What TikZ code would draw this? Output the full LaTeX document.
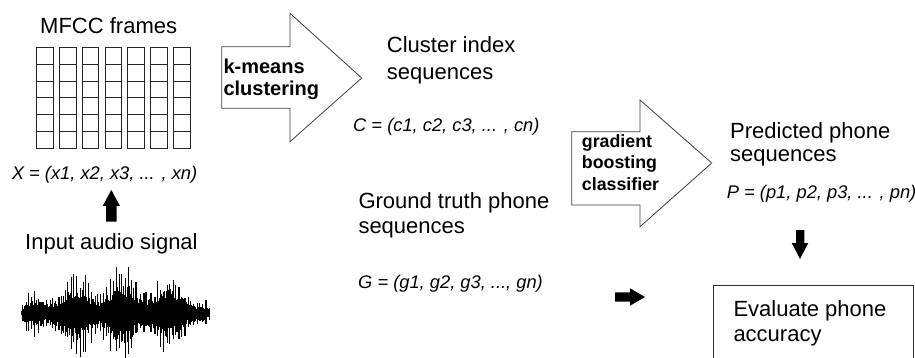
\documentclass[tikz,border=0pt]{standalone}
\usepackage{fontspec}
\setmainfont{Liberation Sans}
\begin{document}
\begin{tikzpicture}[x=1pt,y=-1pt,
  big/.style={inner sep=0pt,anchor=base west,align=left,font=\fontsize{22}{25}\selectfont},
  seqtxt/.style={inner sep=0pt,anchor=base west,font=\fontsize{18.3}{22}\selectfont\itshape},
  boldtxt/.style={inner sep=0pt,anchor=base west,align=left,font=\fontsize{20}{22}\selectfont\bfseries},
  cell/.style={draw=black!85,line width=0.9pt},
  blockarrow/.style={draw=black!75,line width=0.8pt,fill=white},
  solidarrow/.style={fill=black}]
\useasboundingbox (0,0) rectangle (915,358);

% MFCC frames
\node[big] (mfcc) at (40,33.3) {MFCC frames};
\foreach \c in {0,...,6} {
  \foreach \r in {0,...,5} {
    \draw[cell] ({36.7+22.8*\c},{47.3+16.83*\r}) rectangle ++(16.5,16.83);
  }
}
\node[seqtxt] (X) at (11.7,179.3) {X = (x1, x2, x3, ... , xn)};

% up arrow
\fill[solidarrow] (106,221.7) -- (106,206) -- (102.7,206) -- (111.3,190) -- (120,206) -- (116.7,206) -- (116.7,221.7) -- cycle;

\node[big] (input) at (25,249.5) {Input audio signal};

% waveform: dense core
\pgfmathsetseed{7}
\foreach \i in {0,...,188} {
  \pgfmathsetmacro\xx{21.5+\i}
  \pgfmathsetmacro\t{(\xx-21.5)/189}
  \pgfmathsetmacro\env{5+50*sqrt(abs(sin(180*\t)))*(0.7+0.3*sin(1400*\t+60))}
  \pgfmathsetmacro\up{\env*(0.3+0.25*rnd)}
  \pgfmathsetmacro\dn{\env*(0.3+0.25*rnd)}
  \draw[line width=1.1pt] (\xx,313.3-\up) -- (\xx,313.3+\dn);
}
% waveform: spikes
\foreach \i in {0,...,62} {
  \pgfmathsetmacro\xx{22+3*\i+2*rnd}
  \pgfmathsetmacro\t{(\xx-21.5)/189}
  \pgfmathsetmacro\env{5+50*sqrt(abs(sin(180*\t)))*(0.7+0.3*sin(1400*\t+60))}
  \pgfmathsetmacro\up{\env*(0.5+0.5*rnd)}
  \pgfmathsetmacro\dn{\env*(0.5+0.5*rnd)}
  \draw[line width=1.2pt] (\xx,313.3-\up) -- (\xx,313.3+\dn);
}

% k-means arrow
\draw[blockarrow] (221.7,46.7) -- (290,46.7) -- (290,13.3) -- (361.7,78) -- (290,141.7) -- (290,108.3) -- (221.7,108.3) -- cycle;
\node[boldtxt] (kmeans) at (223.3,96) {k-means\\clustering};

\node[big,font=\fontsize{22}{27.3}\selectfont] (cluster) at (386.7,80) {Cluster index\\sequences};
\node[seqtxt] (C) at (353,131.7) {C = (c1, c2, c3, ... , cn)};

\node[big] (ground) at (358.3,233.3) {Ground truth phone\\sequences};
\node[seqtxt] (G) at (358,288.3) {G = (g1, g2, g3, ..., gn)};

% gradient boosting arrow
\draw[blockarrow] (571.7,131.7) -- (640,131.7) -- (640,100) -- (711.7,163) -- (640,226.7) -- (640,205) -- (571.7,205) -- cycle;
\node[boldtxt,font=\fontsize{17.8}{21.5}\selectfont\bfseries] (gbc) at (581.7,190.3) {gradient\\boosting\\classifier};

\node[big,font=\fontsize{22}{23.3}\selectfont] (pred) at (730,161.7) {Predicted phone\\sequences};
\node[seqtxt] (P) at (726.7,198.3) {P = (p1, p2, p3, ... , pn)};

% down arrow
\fill[solidarrow] (796,230) -- (804.3,230) -- (804.3,243) -- (808.3,243) -- (800,259) -- (791.7,243) -- (796,243) -- cycle;

% right arrow
\fill[solidarrow] (615,292.3) -- (630,292.3) -- (630,288.3) -- (645,297) -- (630,305.7) -- (630,301.7) -- (615,301.7) -- cycle;

% evaluate box
\draw[draw=black!80,line width=1pt] (713.3,365) -- (713.3,285) -- (913.3,285) -- (913.3,365);
\node[big] (eval) at (733.3,341.7) {Evaluate phone\\accuracy};
\end{tikzpicture}
\end{document}
